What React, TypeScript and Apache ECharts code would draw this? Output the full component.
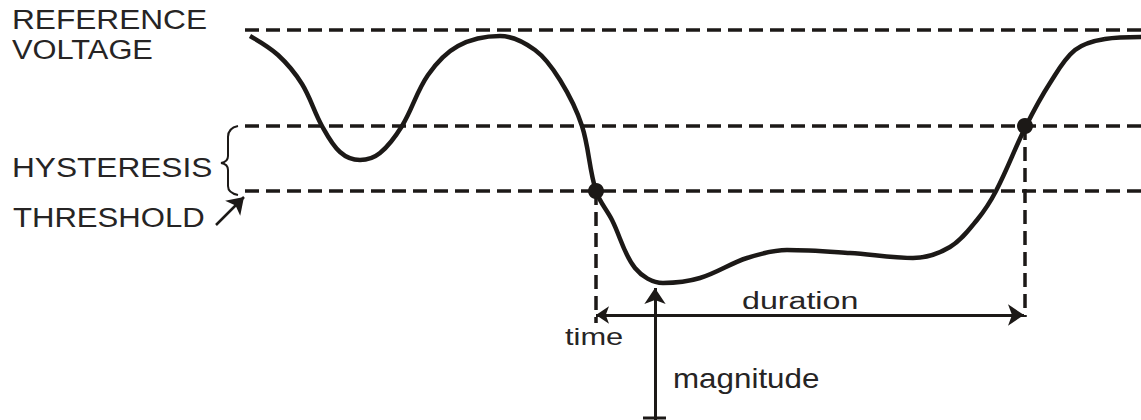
import React, { useEffect, useRef } from "react";
import * as echarts from "echarts";

// ---- data (time in arbitrary units, voltage in arbitrary units) ----
const curveTime = [
  250, 278, 302, 322, 340, 360, 380, 402, 428, 458, 500, 535, 560, 582, 596, 612, 635,
  663, 700, 747, 787, 850, 913, 950, 977, 996, 1026, 1050, 1075, 1105, 1141,
];
const curveVoltage = [
  384, 365, 336, 294, 268, 260, 267, 294, 345, 374, 384, 370, 340, 294, 229, 200, 152,
  137, 142, 162, 170, 167, 162, 173, 200, 229, 294, 337, 370, 381, 383,
];

const levelNames = ["REFERENCE VOLTAGE", "HYSTERESIS", "THRESHOLD"];
const levelValues = [390, 294, 229];
const levelRange = [245, 1141];

const eventTimes = [596, 1025]; // start (threshold crossing), end (hysteresis crossing)
const eventVoltages = [229, 294];
const eventMarkerBottoms = [97, 103];

const durationVoltage = 105;
const magnitudeTime = 655;
const magnitudeRange = [1, 132];

const labelTexts = ["REFERENCE", "VOLTAGE", "HYSTERESIS", "THRESHOLD", "duration", "time", "magnitude"];
// anchor [time, voltage of baseline], font size, horizontal stretch
const labelAnchors = [
  [12, 391], [12, 361], [12, 243], [13, 193], [742, 111], [565, 75], [673, 32],
];
const labelSizes = [28, 28, 28, 28, 23, 23, 28];
const labelStretch = [1.13, 1.1, 1.13, 1.11, 1.4, 1.34, 1.12];

const pointerFrom = [216, 195];
const pointerTo = [244, 223];
const braceAnchor = [228, 294];

const INK = "#1c1917";
const TEXT = "#262424";

echarts.graphic.registerShape(
  "brace",
  echarts.graphic.extendPath(
    "M10,0 Q0,2 0,11 L0,30 Q0,36 -7,37 Q0,38 0,44 L0,60 Q0,67 10,69",
    {}
  )
);

export default function App() {
  const ref = useRef<HTMLDivElement>(null);

  useEffect(() => {
    if (!ref.current) return;
    const chart = echarts.init(ref.current, null, { renderer: "svg" });

    const dashed = [14, 7];
    const series: any[] = [];

    levelValues.forEach((v, i) => {
      series.push({
        name: levelNames[i],
        type: "line",
        data: [
          [levelRange[0], v],
          [levelRange[1], v],
        ],
        showSymbol: false,
        lineStyle: { color: INK, width: 3.5, type: dashed },
        z: 1,
      });
    });

    eventTimes.forEach((t, i) => {
      series.push({
        type: "line",
        data: [
          [t, eventVoltages[i]],
          [t, eventMarkerBottoms[i]],
        ],
        showSymbol: false,
        lineStyle: { color: INK, width: 3.5, type: dashed },
        z: 1,
      });
    });

    series.push({
      name: "voltage",
      type: "line",
      data: curveTime.map((t, i) => [t, curveVoltage[i]]),
      smooth: 0.35,
      showSymbol: false,
      lineStyle: { color: INK, width: 4.5 },
      z: 3,
    });

    series.push({
      type: "scatter",
      data: eventTimes.map((t, i) => [t, eventVoltages[i]]),
      symbol: "circle",
      symbolSize: 16,
      itemStyle: { color: INK, opacity: 1 },
      z: 4,
    });

    series.push({
      type: "lines",
      coordinateSystem: "cartesian2d",
      symbol: ["arrow", "arrow"],
      symbolSize: [13, 16],
      lineStyle: { color: INK, width: 3, opacity: 1, curveness: 0 },
      data: [
        {
          coords: [
            [eventTimes[0], durationVoltage],
            [eventTimes[1] - 1, durationVoltage],
          ],
        },
      ],
      z: 2,
    });

    series.push({
      type: "lines",
      coordinateSystem: "cartesian2d",
      symbol: ["none", "arrow"],
      symbolSize: [14, 16],
      lineStyle: { color: INK, width: 3, opacity: 1, curveness: 0 },
      data: [
        {
          coords: [
            [magnitudeTime, magnitudeRange[0] - 5],
            [magnitudeTime, magnitudeRange[1]],
          ],
        },
      ],
      z: 2,
    });

    series.push({
      type: "line",
      data: [
        [magnitudeTime - 12, magnitudeRange[0] + 1],
        [magnitudeTime + 11, magnitudeRange[0] + 1],
      ],
      showSymbol: false,
      lineStyle: { color: INK, width: 3 },
      z: 2,
    });

    series.push({
      type: "lines",
      coordinateSystem: "cartesian2d",
      symbol: ["none", "arrow"],
      symbolSize: [13, 16],
      lineStyle: { color: INK, width: 2.5, opacity: 1, curveness: 0 },
      data: [{ coords: [pointerFrom, pointerTo] }],
      z: 2,
    });

    chart.setOption({
      animation: false,
      backgroundColor: "#ffffff",
      grid: { left: 0, right: 0, top: 0, bottom: 0, containLabel: false },
      xAxis: { type: "value", min: 0, max: 1141, show: false },
      yAxis: { type: "value", min: 0, max: 420, show: false },
      tooltip: { show: false },
      series,
    });

    const graphics: any[] = labelTexts.map((txt, i) => {
      const p = chart.convertToPixel({ gridIndex: 0 }, labelAnchors[i]) as number[];
      const fs = labelSizes[i];
      return {
        type: "text",
        x: p[0],
        y: p[1] - 0.36 * fs,
        scaleX: labelStretch[i],
        z: 10,
        style: {
          text: txt,
          x: 0,
          y: 0,
          fill: TEXT,
          font: `${fs}px "Liberation Sans", Arial, sans-serif`,
          textAlign: "left",
          textVerticalAlign: "middle",
        },
      };
    });
    const bp = chart.convertToPixel({ gridIndex: 0 }, braceAnchor) as number[];
    graphics.push({
      type: "brace",
      x: bp[0],
      y: bp[1],
      z: 10,
      style: { stroke: INK, lineWidth: 2, fill: "none" },
    });
    chart.setOption({ graphic: { elements: graphics } });

    return () => chart.dispose();
  }, []);

  return (
    <div
      ref={ref}
      style={{ position: "absolute", left: 0, top: 0, width: 1141, height: 420, background: "#fff" }}
    />
  );
}
